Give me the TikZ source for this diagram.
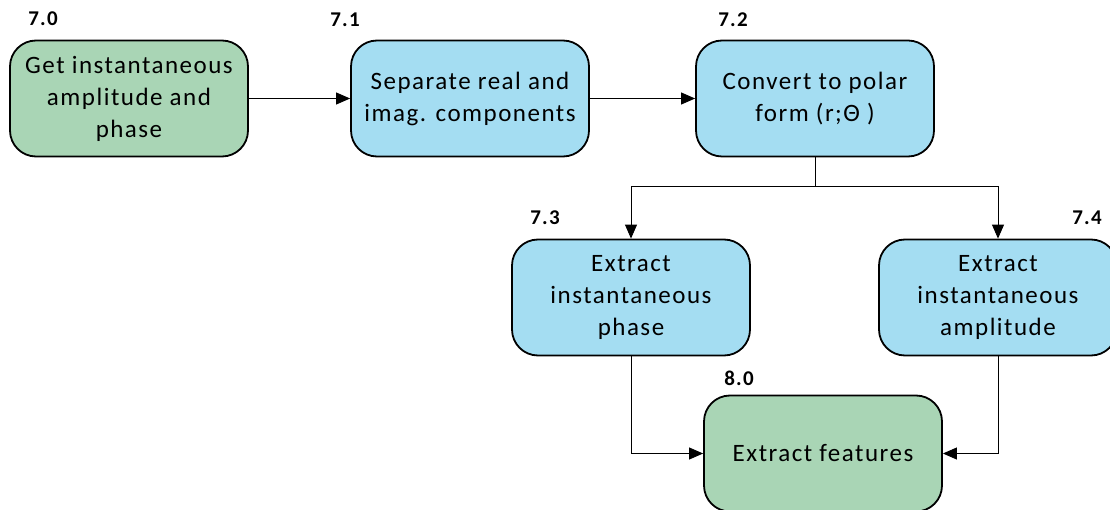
\documentclass[tikz,border=0pt]{standalone}
\usepackage{fontspec}
\setmainfont[LetterSpace=6]{Carlito}
\usetikzlibrary{arrows.meta}
\definecolor{stepgreen}{HTML}{A9D5B5}
\definecolor{stepblue}{HTML}{A4DDF2}
\begin{document}
\begin{tikzpicture}[x=1pt,y=-1pt,
  proc/.style={draw=black, line width=1.8pt, rounded corners=26pt,
    minimum width=238pt, minimum height=116pt, align=center, inner sep=0pt,
    font=\fontsize{25}{32}\selectfont},
  greenbox/.style={proc, fill=stepgreen},
  bluebox/.style={proc, fill=stepblue},
  tag/.style={font=\fontsize{21}{22}\selectfont\bfseries, inner sep=0pt},
  link/.style={line width=0.9pt, -{Triangle[length=14pt,width=12pt]}}]
\useasboundingbox (0,0) rectangle (1110,510);
% process boxes
\node[greenbox] (s70) at (129,98.5) {Get instantaneous\\amplitude and\\phase};
\node[bluebox]  (s71) at (470,98.5) {Separate real and\\imag. components};
\node[bluebox]  (s72) at (815,98.5) {Convert to polar\\form (r;Θ )};
\node[bluebox]  (s73) at (631,297.5) {Extract\\instantaneous\\phase};
\node[bluebox]  (s74) at (998,297.5) {Extract\\instantaneous\\amplitude};
\node[greenbox] (s80) at (823,453.5) {Extract features};
% step numbers
\node[tag] (n70) at (43,19) {7.0};
\node[tag] (n71) at (345,20) {7.1};
\node[tag] (n72) at (733,20) {7.2};
\node[tag] (n73) at (545,218) {7.3};
\node[tag] (n74) at (1087,218) {7.4};
\node[tag] (n80) at (739,378) {8.0};
% connectors
\coordinate (split) at (815,186);
\draw[link] (s70.east) -- (s71.west);
\draw[link] (s71.east) -- (s72.west);
\draw[line width=0.9pt] (s72.south) -- (split);
\draw[link] (split) -| (s73.north);
\draw[link] (split) -| (s74.north);
\draw[link] (s73.south) |- (s80.west);
\draw[link] (s74.south) |- (s80.east);
\end{tikzpicture}
\end{document}
